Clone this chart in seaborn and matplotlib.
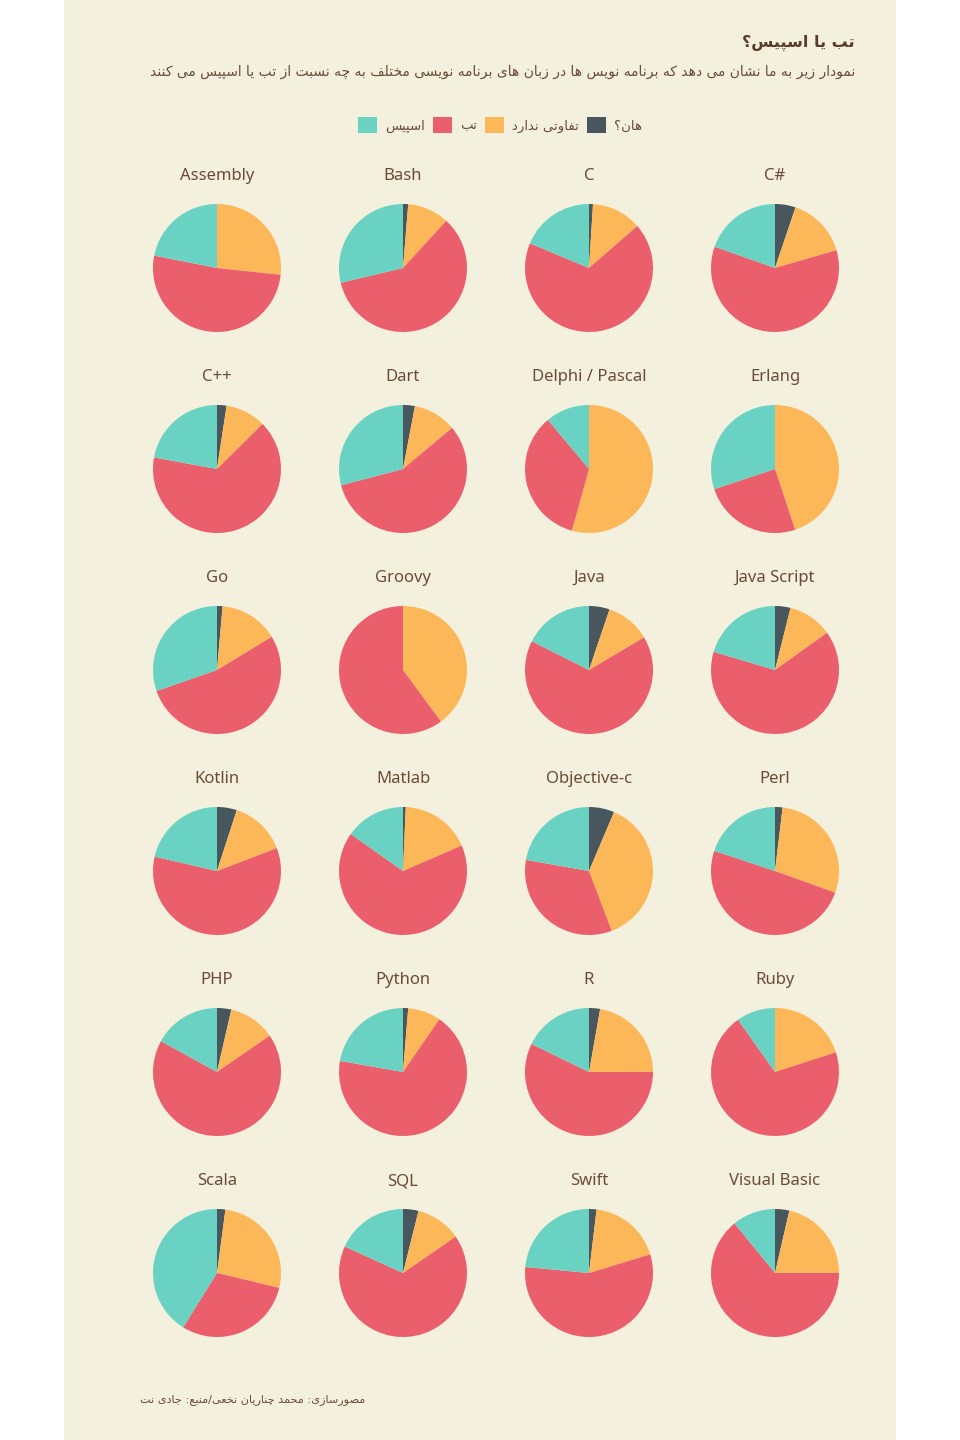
import numpy as np
import pandas as pd
import seaborn as sns
import matplotlib.pyplot as plt
from matplotlib.patches import Rectangle, Patch

# Data (percent of developers per answer)
languages = ['Assembly', 'Bash', 'C', 'C#',
             'C++', 'Dart', 'Delphi / Pascal', 'Erlang',
             'Go', 'Groovy', 'Java', 'Java Script',
             'Kotlin', 'Matlab', 'Objective-c', 'Perl',
             'PHP', 'Python', 'R', 'Ruby',
             'Scala', 'SQL', 'Swift', 'Visual Basic']
huh = [0.0, 1.3, 1.0, 5.2,
       2.4, 3.0, 0.0, 0.0,
       1.4, 0.0, 5.2, 3.9,
       5.0, 0.7, 6.4, 1.9,
       3.6, 1.3, 2.8, 0.0,
       2.1, 3.9, 1.9, 3.6]
no_diff = [26.7, 10.5, 12.6, 15.3,
           10.2, 10.9, 54.3, 44.9,
           14.9, 39.9, 11.3, 11.2,
           14.2, 17.8, 37.8, 28.6,
           11.8, 8.3, 22.2, 20.0,
           26.6, 11.5, 18.4, 21.4]
tabs = [51.4, 59.4, 67.7, 59.9,
        65.3, 57.0, 34.6, 25.0,
        53.3, 60.1, 65.9, 64.4,
        59.4, 66.3, 33.5, 49.6,
        67.6, 68.1, 57.3, 70.1,
        30.1, 66.4, 56.2, 64.1]
spaces = [21.9, 28.7, 18.7, 19.6,
          22.1, 29.1, 11.1, 30.1,
          30.3, 0.0, 17.6, 20.4,
          21.4, 15.2, 22.2, 19.9,
          17.0, 22.2, 17.8, 9.8,
          41.1, 18.2, 23.5, 10.9]

title = 'تب یا اسپیس؟'
subtitle = 'نمودار زیر به ما نشان می دهد که برنامه نویس ها در زبان های برنامه نویسی مختلف به چه نسبت از تب یا اسپیس می کنند'
legend_labels = ['اسپیس', 'تب', 'تفاوتی ندارد', 'هان؟']
credit = 'مصورسازی: محمد چناریان نخعی/منبع: جادی نت'

# Persian letter forms: isolated, final, initial, medial
FORMS = {
    'ا': (0xFE8D, 0xFE8E), 'ب': (0xFE8F, 0xFE90, 0xFE91, 0xFE92),
    'پ': (0xFB56, 0xFB57, 0xFB58, 0xFB59), 'ت': (0xFE95, 0xFE96, 0xFE97, 0xFE98),
    'ج': (0xFE9D, 0xFE9E, 0xFE9F, 0xFEA0), 'چ': (0xFB7A, 0xFB7B, 0xFB7C, 0xFB7D),
    'ح': (0xFEA1, 0xFEA2, 0xFEA3, 0xFEA4), 'خ': (0xFEA5, 0xFEA6, 0xFEA7, 0xFEA8),
    'د': (0xFEA9, 0xFEAA), 'ر': (0xFEAD, 0xFEAE), 'ز': (0xFEAF, 0xFEB0),
    'س': (0xFEB1, 0xFEB2, 0xFEB3, 0xFEB4), 'ش': (0xFEB5, 0xFEB6, 0xFEB7, 0xFEB8),
    'ص': (0xFEB9, 0xFEBA, 0xFEBB, 0xFEBC), 'ع': (0xFEC9, 0xFECA, 0xFECB, 0xFECC),
    'ف': (0xFED1, 0xFED2, 0xFED3, 0xFED4), 'ک': (0xFB8E, 0xFB8F, 0xFB90, 0xFB91),
    'ل': (0xFEDD, 0xFEDE, 0xFEDF, 0xFEE0), 'م': (0xFEE1, 0xFEE2, 0xFEE3, 0xFEE4),
    'ن': (0xFEE5, 0xFEE6, 0xFEE7, 0xFEE8), 'و': (0xFEED, 0xFEEE),
    'ه': (0xFEE9, 0xFEEA, 0xFEEB, 0xFEEC), 'ی': (0xFBFC, 0xFBFD, 0xFBFE, 0xFBFF),
}


def fa(text):
    # join letters and flip to visual order (matplotlib has no RTL shaping)
    out = []
    for i, ch in enumerate(text):
        f = FORMS.get(ch)
        if f is None:
            out.append(ch)
            continue
        prev = FORMS.get(text[i - 1]) if i > 0 else None
        nxt = FORMS.get(text[i + 1]) if i + 1 < len(text) else None
        join_prev = prev is not None and len(prev) == 4
        join_next = len(f) == 4 and nxt is not None
        if join_prev and join_next:
            c = f[3]
        elif join_prev:
            c = f[1]
        elif join_next:
            c = f[2]
        else:
            c = f[0]
        out.append(chr(c))
    return ''.join(out)[::-1]


df = pd.DataFrame({'language': languages, 'huh': huh, 'no_diff': no_diff,
                   'tabs': tabs, 'spaces': spaces})

sns.set_theme(style='white')
plt.rcParams['font.family'] = ['Noto Sans', 'DejaVu Sans']

bg = '#f4f0de'
text_col = '#6b4a38'
colors = {'huh': '#48565d', 'no_diff': '#fcb858', 'tabs': '#eb5e6b', 'spaces': '#69d2c3'}
order = ['huh', 'no_diff', 'tabs', 'spaces']

W, H = 960, 1440
fig = plt.figure(figsize=(W / 100, H / 100), dpi=100, facecolor='white')
fig.patches.append(Rectangle((64 / W, 0), 832 / W, 1, transform=fig.transFigure,
                             facecolor=bg, edgecolor='none', zorder=-5))

fig.text(855 / W, 1 - 43 / H, fa(title), ha='right', va='center', fontsize=11.5,
         fontweight='bold', color='#5a3b2a', family='DejaVu Sans')
fig.text(855 / W, 1 - 72 / H, fa(subtitle), ha='right', va='center', fontsize=10,
         color=text_col, family='DejaVu Sans')

handles = [Patch(facecolor=colors[k], edgecolor='none') for k in ['spaces', 'tabs', 'no_diff', 'huh']]
fig.legend(handles, [fa(s) for s in legend_labels], loc='center',
           bbox_to_anchor=(500 / W, 1 - 125 / H), ncol=4, frameon=False,
           handlelength=1.45, handleheight=1.45, handletextpad=0.6, columnspacing=0.6,
           prop={'family': 'DejaVu Sans', 'size': 9.5}, labelcolor=text_col)

col_x = [217, 403, 589, 775]
row_y = [268, 469, 670, 871, 1072, 1273]
r = 64
for i, row in df.iterrows():
    cx = col_x[i % 4]
    cy = row_y[i // 4]
    ax = fig.add_axes([(cx - r) / W, 1 - (cy + r) / H, 2 * r / W, 2 * r / H])
    vals = row[order].astype(float).values
    ax.pie(vals, colors=[colors[k] for k in order],
           startangle=90, counterclock=False, radius=1,
           wedgeprops={'linewidth': 0})
    ax.set_xlim(-1, 1)
    ax.set_ylim(-1, 1)
    ax.axis('off')
    fig.text(cx / W, 1 - (cy - 92) / H, row['language'], ha='center', va='center',
             fontsize=12, color=text_col)

fig.text(365 / W, 1 - 1400 / H, fa(credit), ha='right', va='center', fontsize=8.1,
         color=text_col, family='DejaVu Sans')

plt.savefig('out.png', dpi=100, facecolor='white')
